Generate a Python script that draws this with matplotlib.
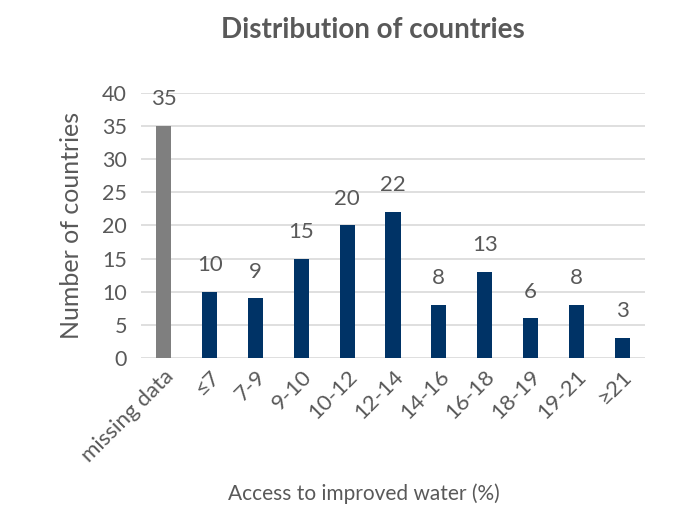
import matplotlib

matplotlib.use("Agg")
import matplotlib.pyplot as plt

categories = ["missing data", "≤7", "7-9", "9-10", "10-12", "12-14",
              "14-16", "16-18", "18-19", "19-21", "≥21"]
counts = [35, 10, 9, 15, 20, 22, 8, 13, 6, 8, 3]
bar_colors = ["#7f7f7f"] + ["#003366"] * (len(categories) - 1)
y_ticks = [0, 5, 10, 15, 20, 25, 30, 35, 40]

text_color = "#595959"
plt.rcParams["font.family"] = ["Lato", "DejaVu Sans"]

fig = plt.figure(figsize=(6.84, 5.07), dpi=100)
ax = fig.add_axes([0.206, 0.294, 0.737, 0.523])

x = range(len(categories))
bars = ax.bar(x, counts, width=0.33, color=bar_colors, zorder=3)
for rect, val in zip(bars, counts):
    ax.annotate(str(val), (rect.get_x() + rect.get_width() / 2, rect.get_height()),
                xytext=(0, 12), textcoords="offset points", ha="center", va="bottom",
                fontsize=16, color=text_color)

ax.set_xlim(-0.5, 10.5)
ax.set_ylim(0, 40)
ax.set_yticks(y_ticks)
ax.set_xticks(list(x))
ax.set_xticklabels(categories, rotation=45, ha="right", rotation_mode="anchor")
ax.tick_params(axis="both", length=0, colors=text_color)
ax.tick_params(axis="y", labelsize=15.5, pad=10)
ax.tick_params(axis="x", labelsize=16, pad=6)
ax.grid(axis="y", color="#d9d9d9", linewidth=1.2, zorder=0)
for side in ("top", "right", "left", "bottom"):
    ax.spines[side].set_visible(False)

ax.set_ylabel("Number of countries", fontsize=18, color=text_color, labelpad=14)
fig.text(0.532, 0.026, "Access to improved water (%)", ha="center", va="center",
         fontsize=15, color=text_color)
fig.text(0.545, 0.94, "Distribution of countries", ha="center", va="center",
         fontsize=20, fontweight="bold", color=text_color)

fig.savefig("out.png", dpi=100)
